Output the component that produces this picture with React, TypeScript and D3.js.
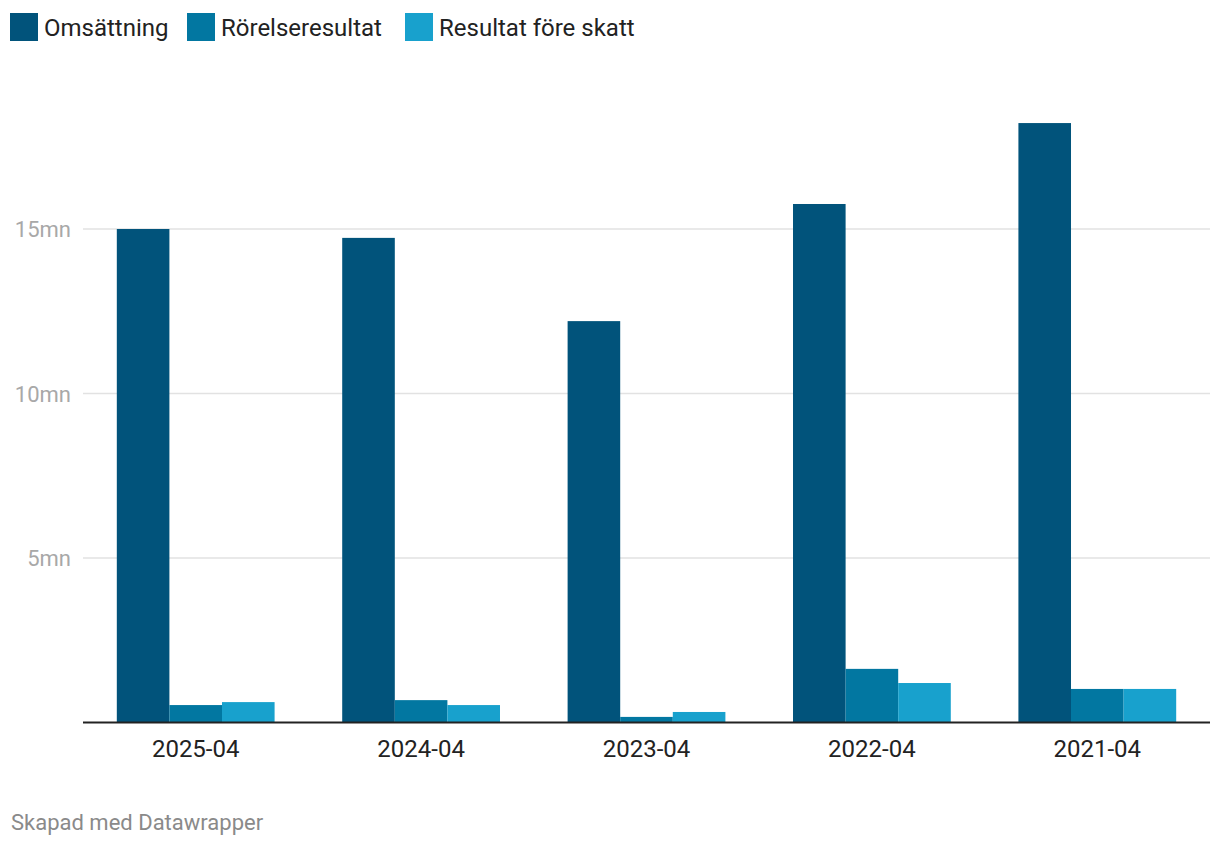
import React from "react";
import * as d3 from "d3";

const categories = ["2025-04", "2024-04", "2023-04", "2022-04", "2021-04"];
const seriesNames = ["Omsättning", "Rörelseresultat", "Resultat före skatt"];
const omsattning = [15.0, 14.73, 12.2, 15.76, 18.22];
const rorelseresultat = [0.53, 0.68, 0.17, 1.63, 1.02];
const resultatForeSkatt = [0.62, 0.53, 0.32, 1.2, 1.02];
const yTicks = [5, 10, 15];
const colors = ["#01537b", "#0277a1", "#18a1cd"];

const W = 1220;
const H = 844;
const left = 83;
const right = 1210;
const bottom = 722.5;

export default function App() {
  const series = [omsattning, rorelseresultat, resultatForeSkatt];
  const x0 = d3.scaleBand<string>().domain(categories).range([left, right]).paddingInner(0.3).paddingOuter(0.15);
  const x1 = d3.scaleBand<string>().domain(seriesNames).range([0, x0.bandwidth()]);
  const y = d3.scaleLinear().domain([0, 15]).range([bottom, bottom - 15 * 32.9]);
  const legendX = [10, 187, 405];
  const font = "Roboto, sans-serif";
  return (
    <svg width={W} height={H} style={{ position: "absolute", left: 0, top: 0, background: "#fff" }} fontFamily={font}>
      {seriesNames.map((s, i) => (
        <g key={s} transform={`translate(${legendX[i]},13)`}>
          <rect width={28} height={28} fill={colors[i]} />
          <text x={34} y={23} fontSize={24} fill="#222">{s}</text>
        </g>
      ))}
      {yTicks.map((t) => (
        <g key={t}>
          <line x1={left} x2={right} y1={y(t)} y2={y(t)} stroke="#e2e2e2" strokeWidth={1.5} />
          <text x={71} y={y(t) + 8} fontSize={22} fill="#a8a8a8" textAnchor="end">{t}mn</text>
        </g>
      ))}
      {categories.map((c, ci) => (
        <g key={c} transform={`translate(${x0(c)},0)`}>
          {seriesNames.map((s, si) => (
            <rect
              key={s}
              x={x1(s)}
              width={x1.bandwidth()}
              y={y(series[si][ci])}
              height={bottom - y(series[si][ci])}
              fill={colors[si]}
            />
          ))}
          <text x={x0.bandwidth() / 2} y={757} fontSize={24} fill="#222" textAnchor="middle">{c}</text>
        </g>
      ))}
      <line x1={left} x2={right} y1={bottom} y2={bottom} stroke="#222" strokeWidth={2} />
      <text x={11} y={830} fontSize={22} fill="#8a8a8a">Skapad med Datawrapper</text>
    </svg>
  );
}
